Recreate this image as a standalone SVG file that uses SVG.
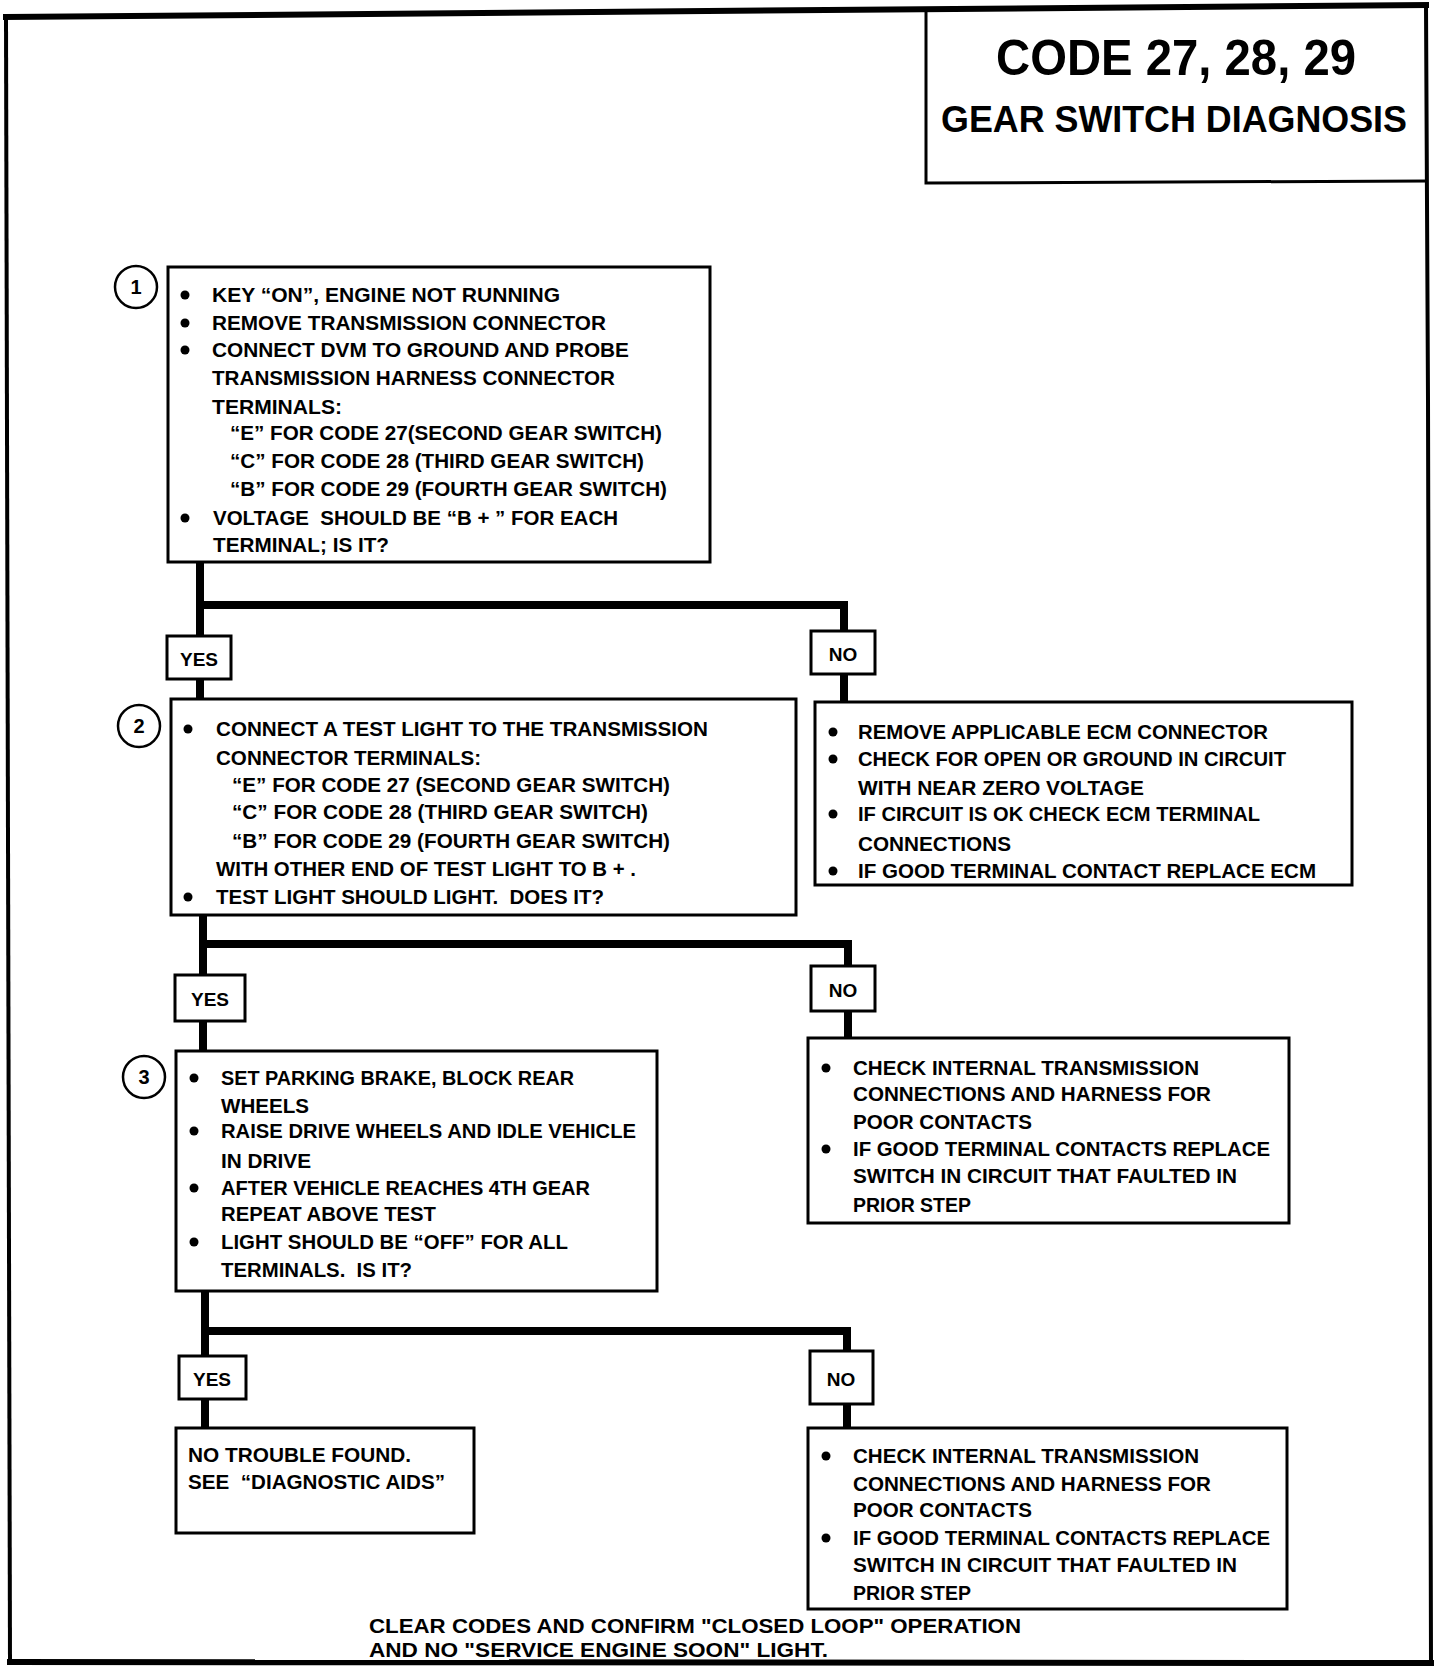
<svg xmlns="http://www.w3.org/2000/svg" width="1456" height="1668" viewBox="0 0 1456 1668">
<style>
.t{font-family:"Liberation Sans",Arial,sans-serif;font-weight:bold;font-size:21px;fill:#000}
.lab{font-family:"Liberation Sans",Arial,sans-serif;font-weight:bold;font-size:19px;fill:#000;text-anchor:middle}
.foot{font-family:"Liberation Sans",Arial,sans-serif;font-weight:bold;font-size:21px;fill:#000}
.ttl{font-family:"Liberation Sans",Arial,sans-serif;font-weight:bold;fill:#000;text-anchor:middle}
.box{fill:#fff;stroke:#000;stroke-width:3}
.conn{fill:none;stroke:#000;stroke-width:8;stroke-linecap:butt;stroke-linejoin:miter}
.frame{fill:none;stroke:#000;stroke-linecap:square}
.num{fill:#fff;stroke:#000;stroke-width:2.5}
.numt{font-family:"Liberation Sans",Arial,sans-serif;font-weight:bold;font-size:20px;fill:#000;text-anchor:middle}
</style>
<rect x="0" y="0" width="1456" height="1668" fill="#fff"/>

<g id="frame">
  <line class="frame" x1="6" y1="17" x2="1426" y2="5" stroke-width="6"/>
  <line class="frame" x1="6" y1="17" x2="10" y2="1662" stroke-width="4"/>
  <polyline class="frame" points="1426,5 1428,400 1431,1663" stroke-width="4"/>
  <line class="frame" x1="10" y1="1662" x2="1431" y2="1663" stroke-width="6"/>
</g>

<g id="title">
  <polyline points="926,8 926,183 1428,181" fill="none" stroke="#000" stroke-width="3"/>
  <text class="ttl" x="1176" y="75" font-size="50" textLength="360" lengthAdjust="spacingAndGlyphs">CODE 27, 28, 29</text>
  <text class="ttl" x="1174" y="132" font-size="36" textLength="466" lengthAdjust="spacingAndGlyphs">GEAR SWITCH DIAGNOSIS</text>
</g>

<g id="connectors">
  <path class="conn" d="M200,562 V699 M200,605 H844 V702"/>
  <path class="conn" d="M203,915 V1051 M203,944 H848 V1038"/>
  <path class="conn" d="M205,1291 V1428 M205,1331 H847 V1428"/>
</g>

<g id="step1">
  <circle class="num" cx="136" cy="287" r="21"/>
  <text class="numt" x="136" y="294">1</text>
  <rect class="box" x="168" y="267" width="542" height="295"/>
  <circle cx="185" cy="295" r="4.5"/>
  <circle cx="185" cy="323" r="4.5"/>
  <circle cx="185" cy="350" r="4.5"/>
  <circle cx="185" cy="518" r="4.5"/>
  <text class="t" x="212" y="302" textLength="348" lengthAdjust="spacingAndGlyphs">KEY “ON”, ENGINE NOT RUNNING</text>
  <text class="t" x="212" y="330" textLength="394" lengthAdjust="spacingAndGlyphs">REMOVE TRANSMISSION CONNECTOR</text>
  <text class="t" x="212" y="357" textLength="417" lengthAdjust="spacingAndGlyphs">CONNECT DVM TO GROUND AND PROBE</text>
  <text class="t" x="212" y="385" textLength="403" lengthAdjust="spacingAndGlyphs">TRANSMISSION HARNESS CONNECTOR</text>
  <text class="t" x="212" y="414" textLength="130" lengthAdjust="spacingAndGlyphs">TERMINALS:</text>
  <text class="t" x="230" y="440" textLength="432" lengthAdjust="spacingAndGlyphs">“E” FOR CODE 27(SECOND GEAR SWITCH)</text>
  <text class="t" x="230" y="468" textLength="414" lengthAdjust="spacingAndGlyphs">“C” FOR CODE 28 (THIRD GEAR SWITCH)</text>
  <text class="t" x="230" y="496" textLength="437" lengthAdjust="spacingAndGlyphs">“B” FOR CODE 29 (FOURTH GEAR SWITCH)</text>
  <text class="t" x="213" y="525" textLength="405" lengthAdjust="spacingAndGlyphs" xml:space="preserve">VOLTAGE  SHOULD BE “B + ” FOR EACH</text>
  <text class="t" x="213" y="552" textLength="176" lengthAdjust="spacingAndGlyphs">TERMINAL; IS IT?</text>
</g>

<g id="yes1">
  <rect class="box" x="167" y="636" width="64" height="43"/>
  <text class="lab" x="199" y="666">YES</text>
</g>
<g id="no1">
  <rect class="box" x="811" y="631" width="64" height="43"/>
  <text class="lab" x="843" y="661">NO</text>
</g>

<g id="step2">
  <circle class="num" cx="139" cy="726" r="21"/>
  <text class="numt" x="139" y="733">2</text>
  <rect class="box" x="171" y="699" width="625" height="216"/>
  <circle cx="188" cy="729" r="4.5"/>
  <circle cx="188" cy="897" r="4.5"/>
  <text class="t" x="216" y="736" textLength="492" lengthAdjust="spacingAndGlyphs">CONNECT A TEST LIGHT TO THE TRANSMISSION</text>
  <text class="t" x="216" y="765" textLength="265" lengthAdjust="spacingAndGlyphs">CONNECTOR TERMINALS:</text>
  <text class="t" x="232" y="792" textLength="438" lengthAdjust="spacingAndGlyphs">“E” FOR CODE 27 (SECOND GEAR SWITCH)</text>
  <text class="t" x="232" y="819" textLength="416" lengthAdjust="spacingAndGlyphs">“C” FOR CODE 28 (THIRD GEAR SWITCH)</text>
  <text class="t" x="232" y="848" textLength="438" lengthAdjust="spacingAndGlyphs">“B” FOR CODE 29 (FOURTH GEAR SWITCH)</text>
  <text class="t" x="216" y="876" textLength="420" lengthAdjust="spacingAndGlyphs">WITH OTHER END OF TEST LIGHT TO B + .</text>
  <text class="t" x="216" y="904" textLength="388" lengthAdjust="spacingAndGlyphs" xml:space="preserve">TEST LIGHT SHOULD LIGHT.  DOES IT?</text>
</g>

<g id="no1-action">
  <rect class="box" x="815" y="702" width="537" height="183"/>
  <circle cx="833" cy="732" r="4.5"/>
  <circle cx="833" cy="759" r="4.5"/>
  <circle cx="833" cy="814" r="4.5"/>
  <circle cx="833" cy="871" r="4.5"/>
  <text class="t" x="858" y="739" textLength="410" lengthAdjust="spacingAndGlyphs">REMOVE APPLICABLE ECM CONNECTOR</text>
  <text class="t" x="858" y="766" textLength="428" lengthAdjust="spacingAndGlyphs">CHECK FOR OPEN OR GROUND IN CIRCUIT</text>
  <text class="t" x="858" y="795" textLength="286" lengthAdjust="spacingAndGlyphs">WITH NEAR ZERO VOLTAGE</text>
  <text class="t" x="858" y="821" textLength="402" lengthAdjust="spacingAndGlyphs">IF CIRCUIT IS OK CHECK ECM TERMINAL</text>
  <text class="t" x="858" y="851" textLength="153" lengthAdjust="spacingAndGlyphs">CONNECTIONS</text>
  <text class="t" x="858" y="878" textLength="458" lengthAdjust="spacingAndGlyphs">IF GOOD TERMINAL CONTACT REPLACE ECM</text>
</g>

<g id="yes2">
  <rect class="box" x="175" y="975" width="70" height="46"/>
  <text class="lab" x="210" y="1006">YES</text>
</g>
<g id="no2">
  <rect class="box" x="811" y="966" width="64" height="45"/>
  <text class="lab" x="843" y="997">NO</text>
</g>

<g id="step3">
  <circle class="num" cx="144" cy="1077" r="21"/>
  <text class="numt" x="144" y="1084">3</text>
  <rect class="box" x="176" y="1051" width="481" height="240"/>
  <circle cx="194" cy="1078" r="4.5"/>
  <circle cx="194" cy="1131" r="4.5"/>
  <circle cx="194" cy="1188" r="4.5"/>
  <circle cx="194" cy="1242" r="4.5"/>
  <text class="t" x="221" y="1085" textLength="353" lengthAdjust="spacingAndGlyphs">SET PARKING BRAKE, BLOCK REAR</text>
  <text class="t" x="221" y="1113" textLength="88" lengthAdjust="spacingAndGlyphs">WHEELS</text>
  <text class="t" x="221" y="1138" textLength="415" lengthAdjust="spacingAndGlyphs">RAISE DRIVE WHEELS AND IDLE VEHICLE</text>
  <text class="t" x="221" y="1168" textLength="90" lengthAdjust="spacingAndGlyphs">IN DRIVE</text>
  <text class="t" x="221" y="1195" textLength="369" lengthAdjust="spacingAndGlyphs">AFTER VEHICLE REACHES 4TH GEAR</text>
  <text class="t" x="221" y="1221" textLength="215" lengthAdjust="spacingAndGlyphs">REPEAT ABOVE TEST</text>
  <text class="t" x="221" y="1249" textLength="347" lengthAdjust="spacingAndGlyphs">LIGHT SHOULD BE “OFF” FOR ALL</text>
  <text class="t" x="221" y="1277" textLength="191" lengthAdjust="spacingAndGlyphs" xml:space="preserve">TERMINALS.  IS IT?</text>
</g>

<g id="no2-action">
  <rect class="box" x="808" y="1038" width="481" height="185"/>
  <circle cx="826" cy="1068" r="4.5"/>
  <circle cx="826" cy="1149" r="4.5"/>
  <text class="t" x="853" y="1075" textLength="346" lengthAdjust="spacingAndGlyphs">CHECK INTERNAL TRANSMISSION</text>
  <text class="t" x="853" y="1101" textLength="358" lengthAdjust="spacingAndGlyphs">CONNECTIONS AND HARNESS FOR</text>
  <text class="t" x="853" y="1129" textLength="179" lengthAdjust="spacingAndGlyphs">POOR CONTACTS</text>
  <text class="t" x="853" y="1156" textLength="417" lengthAdjust="spacingAndGlyphs">IF GOOD TERMINAL CONTACTS REPLACE</text>
  <text class="t" x="853" y="1183" textLength="384" lengthAdjust="spacingAndGlyphs">SWITCH IN CIRCUIT THAT FAULTED IN</text>
  <text class="t" x="853" y="1212" textLength="118" lengthAdjust="spacingAndGlyphs">PRIOR STEP</text>
</g>

<g id="yes3">
  <rect class="box" x="179" y="1356" width="67" height="43"/>
  <text class="lab" x="212" y="1386">YES</text>
</g>
<g id="no3">
  <rect class="box" x="810" y="1351" width="63" height="53"/>
  <text class="lab" x="841" y="1386">NO</text>
</g>

<g id="no-trouble">
  <rect class="box" x="176" y="1428" width="298" height="105"/>
  <text class="t" x="188" y="1462" textLength="223" lengthAdjust="spacingAndGlyphs">NO TROUBLE FOUND.</text>
  <text class="t" x="188" y="1489" textLength="257" lengthAdjust="spacingAndGlyphs" xml:space="preserve">SEE  “DIAGNOSTIC AIDS”</text>
</g>

<g id="no3-action">
  <rect class="box" x="808" y="1428" width="479" height="181"/>
  <circle cx="826" cy="1456" r="4.5"/>
  <circle cx="826" cy="1538" r="4.5"/>
  <text class="t" x="853" y="1463" textLength="346" lengthAdjust="spacingAndGlyphs">CHECK INTERNAL TRANSMISSION</text>
  <text class="t" x="853" y="1491" textLength="358" lengthAdjust="spacingAndGlyphs">CONNECTIONS AND HARNESS FOR</text>
  <text class="t" x="853" y="1517" textLength="179" lengthAdjust="spacingAndGlyphs">POOR CONTACTS</text>
  <text class="t" x="853" y="1545" textLength="417" lengthAdjust="spacingAndGlyphs">IF GOOD TERMINAL CONTACTS REPLACE</text>
  <text class="t" x="853" y="1572" textLength="384" lengthAdjust="spacingAndGlyphs">SWITCH IN CIRCUIT THAT FAULTED IN</text>
  <text class="t" x="853" y="1600" textLength="118" lengthAdjust="spacingAndGlyphs">PRIOR STEP</text>
</g>

<g id="footer">
  <text class="foot" x="369" y="1633" textLength="652" lengthAdjust="spacingAndGlyphs">CLEAR CODES AND CONFIRM "CLOSED LOOP" OPERATION</text>
  <text class="foot" x="369" y="1657" textLength="459" lengthAdjust="spacingAndGlyphs">AND NO "SERVICE ENGINE SOON" LIGHT.</text>
</g>
</svg>
